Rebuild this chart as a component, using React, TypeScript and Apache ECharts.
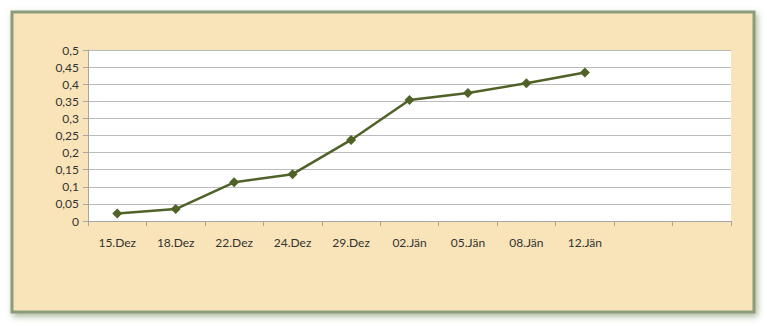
import React, { useEffect, useRef } from "react";
import * as echarts from "echarts";

const categories = ["15.Dez", "18.Dez", "22.Dez", "24.Dez", "29.Dez", "02.Jän", "05.Jän", "08.Jän", "12.Jän", "", ""];
const values = [0.022, 0.035, 0.113, 0.137, 0.237, 0.354, 0.374, 0.403, 0.434];
const yMin = 0;
const yMax = 0.5;
const yStep = 0.05;

export default function App() {
  const ref = useRef<HTMLDivElement>(null);
  useEffect(() => {
    if (!ref.current) return;
    const chart = echarts.init(ref.current, undefined, { renderer: "svg" });
    const font = "Lato, 'Open Sans', sans-serif";
    chart.setOption({
      animation: false,
      backgroundColor: "#ffffff",
      graphic: [
        {
          type: "rect",
          z: -10,
          silent: true,
          shape: { x: 12, y: 12, width: 742, height: 300 },
          style: {
            fill: "#F8E4B8",
            stroke: "#8C9B7A",
            lineWidth: 3,
            shadowBlur: 6,
            shadowOffsetX: 2,
            shadowOffsetY: 3,
            shadowColor: "rgba(90,110,60,0.5)",
          },
        },
      ],
      grid: {
        left: 88,
        top: 50,
        right: 36,
        bottom: 105,
        show: true,
        backgroundColor: "#ffffff",
        borderWidth: 0,
      },
      xAxis: {
        type: "category",
        data: categories,
        boundaryGap: true,
        axisLine: { show: true, lineStyle: { color: "#A6A6A6", width: 1 } },
        axisTick: { show: true, length: 5, lineStyle: { color: "#A6A6A6" } },
        axisLabel: { color: "#333333", fontSize: 12, fontFamily: font, margin: 15, interval: 0 },
        splitLine: { show: false },
      },
      yAxis: {
        type: "value",
        min: yMin,
        max: yMax,
        interval: yStep,
        axisLine: { show: true, lineStyle: { color: "#A6A6A6", width: 1 } },
        axisTick: { show: true, length: 5, lineStyle: { color: "#A6A6A6" } },
        axisLabel: {
          color: "#333333",
          fontSize: 12,
          fontFamily: font,
          margin: 9,
          formatter: (v: number) => String(Math.round(v * 100) / 100).replace(".", ","),
        },
        splitLine: { show: true, lineStyle: { color: "#BBBBBB", width: 1 } },
      },
      series: [
        {
          type: "line",
          data: values,
          symbol: "diamond",
          symbolSize: 10,
          lineStyle: { color: "#4F6228", width: 2.5 },
          itemStyle: { color: "#4F6228" },
        },
      ],
    });
    return () => chart.dispose();
  }, []);
  return (
    <div
      ref={ref}
      style={{ position: "fixed", left: 0, top: 0, width: 767, height: 326 }}
    />
  );
}
